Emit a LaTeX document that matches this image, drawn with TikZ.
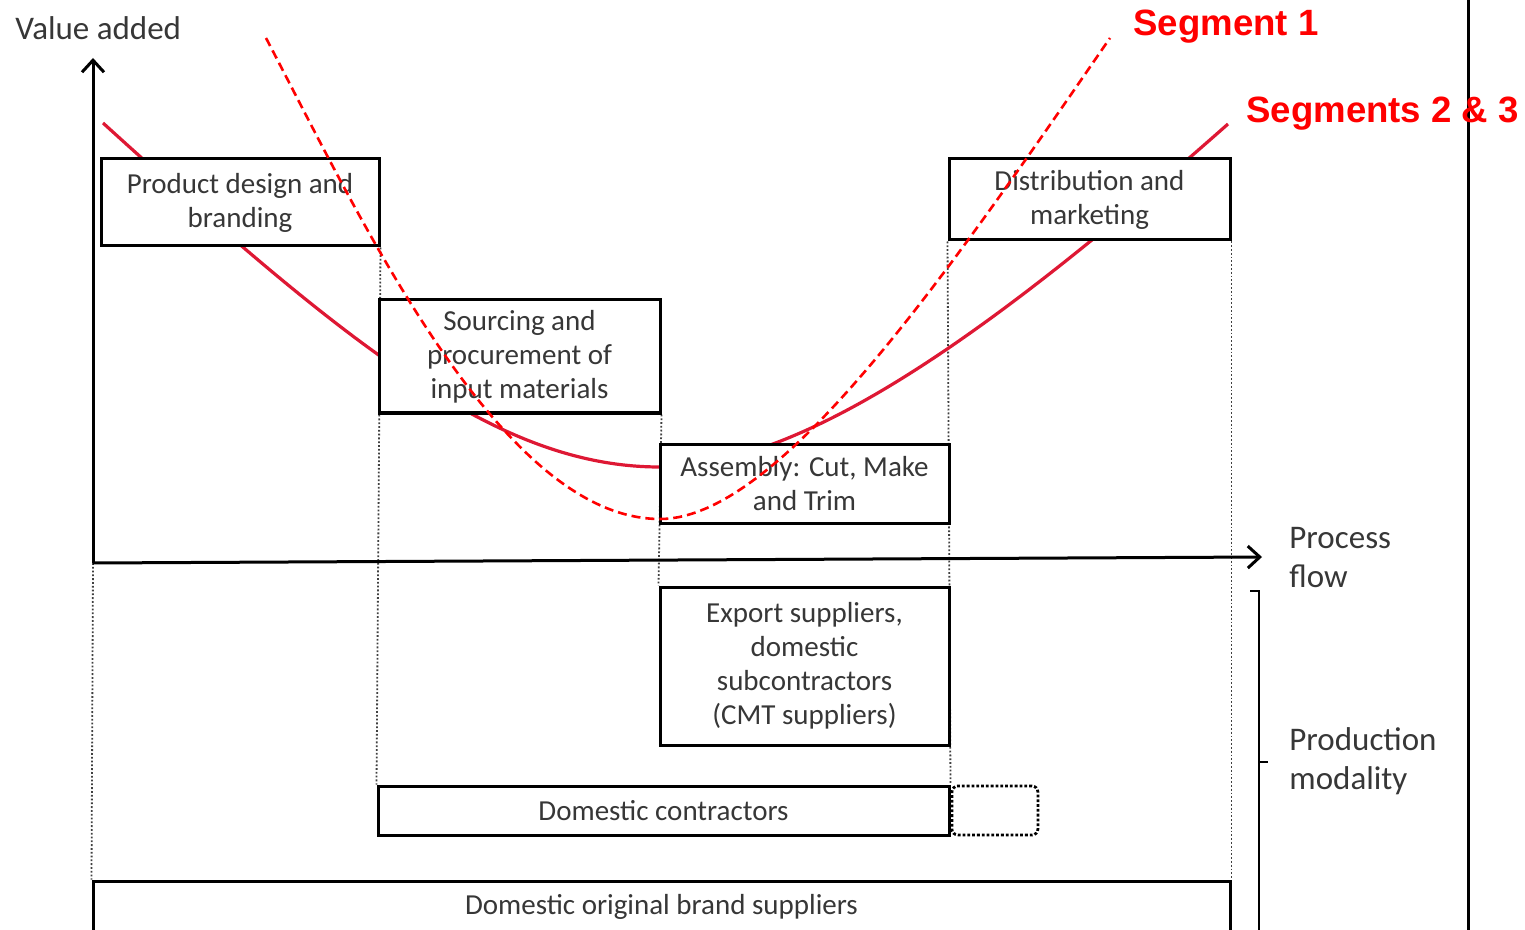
\documentclass[tikz,border=0pt]{standalone}
\usepackage{fontspec}
\setmainfont{Carlito}
\newfontfamily\segfont{Liberation Sans}
\usetikzlibrary{arrows.meta,positioning,backgrounds}
\definecolor{txtgray}{RGB}{55,55,55}
\definecolor{segred}{RGB}{255,0,0}
\definecolor{curvered}{RGB}{222,24,52}
\tikzset{
  stagebox/.style={draw,line width=1.5pt,fill=white,align=center,inner sep=0pt,
    font=\fontsize{14.5}{17}\selectfont,text=txtgray},
  optbox/.style={draw,densely dotted,line width=1.4pt,rounded corners=3pt,inner sep=0pt},
  guide/.style={densely dotted,line width=0.9pt,black!75},
  axis/.style={line width=1.5pt,-{Straight Barb[length=6pt,width=11pt,line width=1.5pt]}},
  seglabel/.style={font=\segfont\bfseries\fontsize{18.3}{20}\selectfont,text=segred,anchor=west,inner sep=0pt},
  sidelabel/.style={font=\fontsize{16.5}{19.5}\selectfont,text=txtgray,align=left,anchor=west,inner sep=0pt}
}
\begin{document}
\begin{tikzpicture}[x=0.5pt,y=-0.5pt]
\useasboundingbox (0,0) rectangle (1525,930);
\clip (0,0) rectangle (1525,930);
\coordinate (O) at (93,563);
\coordinate (ytip) at (93,58);
\coordinate (xtip) at (1262,557);
% stages of the chain
\node[stagebox,minimum width=139pt,minimum height=43.5pt] (design) at (240,202.5) {Product design and\\branding};
\node[stagebox,minimum width=140.5pt,minimum height=56.5pt] (sourcing) at (519.5,356.5) {Sourcing and\\procurement of\\input materials};
\node[stagebox,minimum width=144.5pt,minimum height=39.5pt] (assembly) at (804.5,483.5) {Assembly: Cut, Make\\and Trim};
\node[stagebox,minimum width=140.5pt,minimum height=40.5pt] (distrib) at (1089.5,199.5) {Distribution and\\marketing};
% production modalities
\node[stagebox,minimum width=144.5pt,minimum height=79pt] (export) at (804.5,666) {Export suppliers,\\domestic\\subcontractors\\(CMT suppliers)};
\node[stagebox,minimum width=285.5pt,minimum height=24.5pt] (contract) at (663.5,810.5) {Domestic contractors};
\node[optbox,minimum width=43pt,minimum height=24.5pt,right=0pt of contract] (contractext) {};
\node[stagebox,minimum width=568.5pt,minimum height=26pt] (brand) at (661.5,907) {Domestic original brand suppliers};
\begin{pgfonlayer}{background}
\draw[guide] (O) -- (brand.north west);
\draw[guide] (design.south east) -- (contract.north west);
\draw[guide] (sourcing.south east) -- (export.north west);
\draw[guide] (distrib.south west) -- (contract.north east);
\draw[guide] (distrib.south east) -- (brand.north east);
% smile curve
\draw[curvered,line width=1.6pt] (103,123) .. controls (353,350) and (500,467) .. (660,467)
  .. controls (805,467) and (995,330) .. (1228,124);
\end{pgfonlayer}
% axes
\draw[axis] (O) -- (ytip);
\draw[axis] (O) -- (xtip);
% segment 1 curve
\draw[segred,line width=1.3pt,dash pattern=on 4.5pt off 2.5pt] (266,38) .. controls (360,217) and (500,519) .. (660,519)
  .. controls (780,519) and (950,270) .. (1110,38);
% bracket and frame line
\draw[line width=1pt] (1250,591) -- (1259,591) -- (1259,935);
\draw[line width=1pt] (1259,762) -- (1268,762);
\draw[line width=1.5pt] (1468,0) -- (1468,930);
% labels
\node[sidelabel] (valueadded) at (15,28) {Value added};
\node[sidelabel] (process) at (1289,558) {Process\\flow};
\node[sidelabel] (modality) at (1289,761) {Production\\modality};
\node[seglabel] (seg1) at (1133,27) {Segment 1};
\node[seglabel] (seg23) at (1246,114) {Segments 2 \& 3};
\end{tikzpicture}
\end{document}
